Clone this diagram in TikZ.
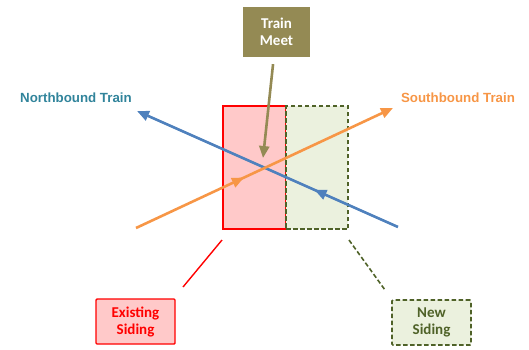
\documentclass[tikz,border=0pt]{standalone}
\usepackage{fontspec}
\setmainfont{Carlito}
\newfontfamily\trainfont{Liberation Sans}
\usetikzlibrary{arrows.meta,decorations.markings}

\definecolor{meetolive}{HTML}{948A54}
\definecolor{sidingred}{HTML}{FF0000}
\definecolor{sidingpink}{HTML}{FFC9C9}
\definecolor{newgreen}{HTML}{4F6228}
\definecolor{newfill}{HTML}{EBF1DE}
\definecolor{northblue}{HTML}{4F81BD}
\definecolor{northteal}{HTML}{31849B}
\definecolor{southorange}{HTML}{F79646}

\tikzset{
  tip/.style={-{Triangle[length=12pt,width=10pt]}},
  track/.style={line width=2.6pt,tip,postaction={decorate},
    decoration={markings,mark=at position #1 with {\arrow{Triangle[length=12pt,width=10pt]}}}},
  newdash/.style={dash pattern=on 4.5pt off 2.5pt},
  callout/.style={minimum width=79pt,minimum height=45pt,align=center,
    rounded corners=1pt,font=\fontsize{15}{17}\selectfont\bfseries},
  trainlabel/.style={font=\trainfont\fontsize{13.3}{15}\selectfont\bfseries}
}

\begin{document}
\begin{tikzpicture}[x=1pt,y=-1pt]
    \useasboundingbox (0,0) rectangle (529,349);

    % Siding blocks
    \node[draw=sidingred,fill=sidingpink,line width=1.9pt,minimum width=63pt,minimum height=123pt,inner sep=0pt]
        (existing) at (254.5,167.5) {};
    \node[draw=newgreen,fill=newfill,line width=1.9pt,newdash,minimum width=62pt,minimum height=123pt,inner sep=0pt]
        (newsiding) at (317,167.5) {};

    % Train movements
    \coordinate (nbstart) at (398,227);
    \coordinate (nbend) at (137,111);
    \coordinate (sbstart) at (136,228);
    \coordinate (sbend) at (393,108);
    \draw[northblue,track=0.32] (nbstart) -- (nbend);
    \draw[southorange,track=0.42] (sbstart) -- (sbend);
    \node[trainlabel,text=northteal] (nblabel) at (76,98) {Northbound Train};
    \node[trainlabel,text=southorange] (sblabel) at (458,98) {Southbound Train};

    % Meet point
    \node[callout,fill=meetolive,text=white,minimum width=67pt,minimum height=50pt,rounded corners=0pt]
        (meet) at (276.5,32) {Train\\Meet};
    \coordinate (meetpt) at (263,158);
    \draw[meetolive,line width=2.6pt,tip,shorten <=7pt] (meet) -- (meetpt);

    % Callouts
    \node[callout,draw=sidingred,fill=sidingpink,text=sidingred,line width=1.4pt]
        (existingnote) at (135.5,321.5) {Existing\\Siding};
    \node[callout,draw=newgreen,fill=newfill,text=newgreen,line width=1.6pt,newdash]
        (newnote) at (431.5,322.5) {New\\Siding};
    \coordinate (exa) at (222,240);
    \coordinate (exb) at (183,287);
    \coordinate (nwa) at (349,240);
    \coordinate (nwb) at (385,290);
    \draw[sidingred,line width=1.4pt] (exa) -- (exb);
    \draw[newgreen,line width=1.6pt,newdash] (nwa) -- (nwb);
\end{tikzpicture}
\end{document}
